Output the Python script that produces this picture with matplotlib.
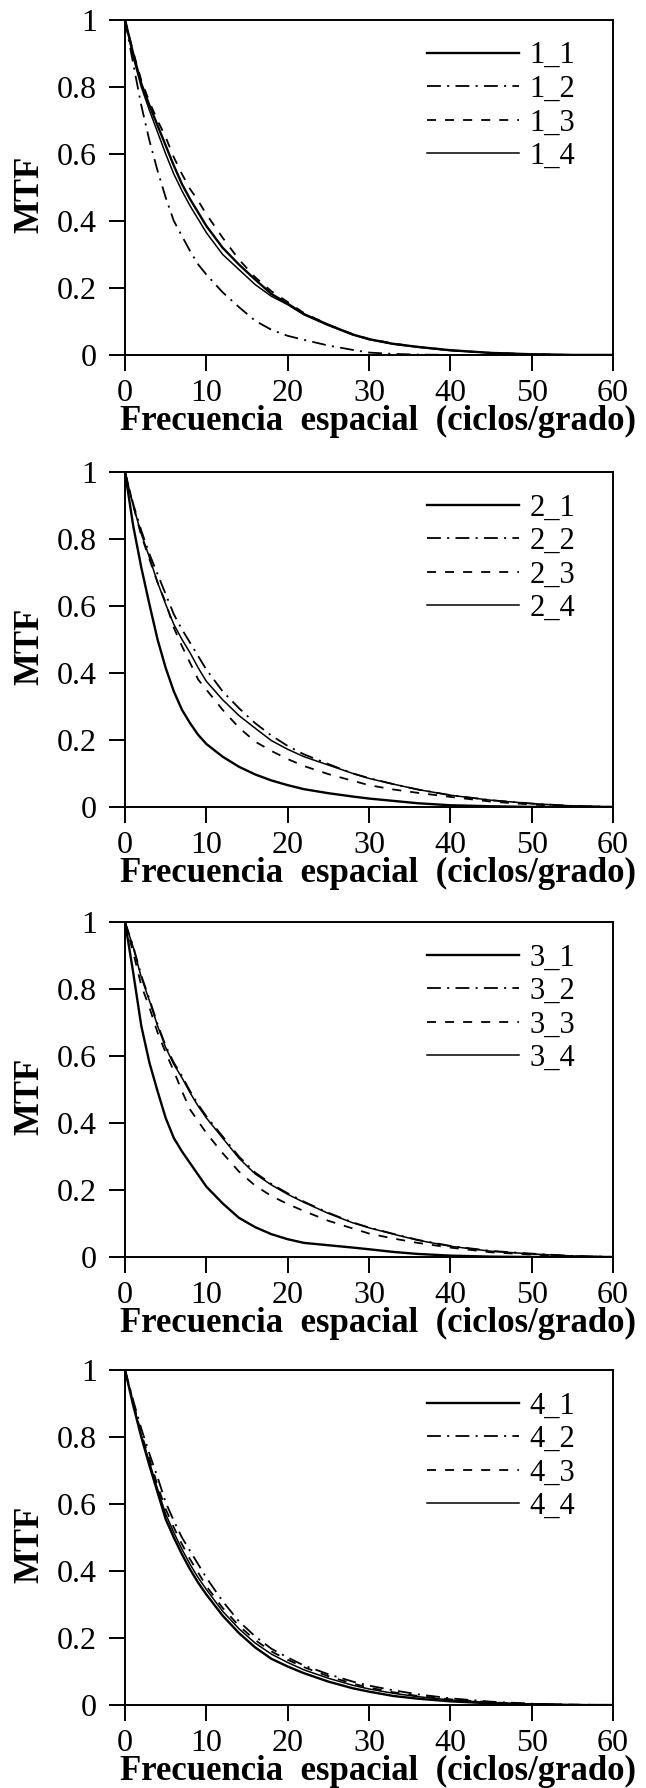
import matplotlib
matplotlib.use('Agg')
import matplotlib.pyplot as plt
from matplotlib.ticker import FixedLocator, FixedFormatter

plt.rcParams['font.family'] = ['Liberation Serif', 'DejaVu Serif']
plt.rcParams['lines.scale_dashes'] = False

# spatial frequency samples (ciclos/grado), shared by every curve
freq = [0, 1, 2, 3, 4, 5, 6, 7, 8, 9, 10, 12, 14, 16, 18, 20, 22, 25, 28,
        30, 33, 36, 40, 45, 50, 55, 60]

# panel 1
mtf_1_1 = [1.0, 0.90, 0.81, 0.745, 0.685, 0.625, 0.565, 0.51, 0.465, 0.425, 0.385,
           0.32, 0.27, 0.225, 0.182, 0.153, 0.122, 0.09, 0.061, 0.047, 0.033, 0.024,
           0.014, 0.006, 0.002, 0.0, 0.0]
mtf_1_2 = [1.0, 0.87, 0.745, 0.64, 0.55, 0.47, 0.40, 0.355, 0.31, 0.27, 0.24,
           0.187, 0.143, 0.102, 0.075, 0.057, 0.045, 0.028, 0.015, 0.007, 0.003, 0.001,
           0.0, 0.0, 0.0, 0.0, 0.0]
mtf_1_3 = [1.0, 0.905, 0.82, 0.755, 0.70, 0.65, 0.59, 0.54, 0.495, 0.46, 0.42,
           0.35, 0.285, 0.232, 0.19, 0.158, 0.125, 0.09, 0.062, 0.048, 0.034, 0.024,
           0.014, 0.006, 0.002, 0.0, 0.0]
mtf_1_4 = [1.0, 0.89, 0.80, 0.73, 0.665, 0.60, 0.54, 0.49, 0.445, 0.405, 0.365,
           0.30, 0.255, 0.21, 0.175, 0.15, 0.12, 0.088, 0.06, 0.046, 0.032, 0.023,
           0.013, 0.006, 0.002, 0.0, 0.0]

# panel 2
mtf_2_1 = [1.0, 0.84, 0.715, 0.605, 0.50, 0.415, 0.345, 0.29, 0.25, 0.215, 0.188,
           0.15, 0.12, 0.097, 0.079, 0.065, 0.053, 0.041, 0.031, 0.025, 0.018, 0.011,
           0.005, 0.002, 0.0, 0.0, 0.0]
mtf_2_2 = [1.0, 0.905, 0.825, 0.755, 0.695, 0.635, 0.575, 0.53, 0.49, 0.45, 0.41,
           0.345, 0.295, 0.25, 0.213, 0.182, 0.157, 0.128, 0.10, 0.086, 0.068, 0.052,
           0.035, 0.02, 0.01, 0.003, 0.0]
mtf_2_3 = [1.0, 0.90, 0.81, 0.74, 0.67, 0.61, 0.535, 0.48, 0.43, 0.38, 0.35,
           0.29, 0.237, 0.195, 0.167, 0.143, 0.122, 0.098, 0.078, 0.065, 0.052, 0.042,
           0.03, 0.016, 0.007, 0.002, 0.0]
mtf_2_4 = [1.0, 0.90, 0.815, 0.745, 0.67, 0.605, 0.545, 0.50, 0.46, 0.415, 0.375,
           0.32, 0.273, 0.235, 0.198, 0.172, 0.15, 0.125, 0.10, 0.085, 0.068, 0.052,
           0.035, 0.02, 0.01, 0.003, 0.0]

# panel 3
mtf_3_1 = [1.0, 0.85, 0.69, 0.58, 0.495, 0.415, 0.355, 0.315, 0.28, 0.245, 0.21,
           0.16, 0.117, 0.089, 0.068, 0.053, 0.042, 0.035, 0.028, 0.023, 0.015, 0.009,
           0.004, 0.001, 0.0, 0.0, 0.0]
mtf_3_2 = [1.0, 0.928, 0.84, 0.77, 0.695, 0.63, 0.58, 0.54, 0.495, 0.455, 0.42,
           0.36, 0.30, 0.252, 0.218, 0.19, 0.165, 0.132, 0.103, 0.088, 0.069, 0.051,
           0.033, 0.018, 0.01, 0.003, 0.0]
mtf_3_3 = [1.0, 0.91, 0.81, 0.745, 0.67, 0.61, 0.555, 0.495, 0.44, 0.405, 0.37,
           0.31, 0.255, 0.213, 0.182, 0.158, 0.137, 0.108, 0.085, 0.07, 0.055, 0.042,
           0.028, 0.014, 0.007, 0.002, 0.0]
mtf_3_4 = [1.0, 0.925, 0.835, 0.765, 0.69, 0.625, 0.575, 0.535, 0.49, 0.45, 0.415,
           0.355, 0.295, 0.248, 0.215, 0.187, 0.163, 0.13, 0.102, 0.087, 0.068, 0.05,
           0.032, 0.017, 0.009, 0.003, 0.0]

# panel 4
mtf_4_1 = [1.0, 0.895, 0.80, 0.715, 0.635, 0.555, 0.50, 0.45, 0.405, 0.365, 0.33,
           0.267, 0.215, 0.172, 0.138, 0.115, 0.095, 0.07, 0.05, 0.04, 0.027, 0.019,
           0.011, 0.005, 0.002, 0.0, 0.0]
mtf_4_2 = [1.0, 0.91, 0.825, 0.75, 0.68, 0.605, 0.55, 0.50, 0.46, 0.42, 0.38,
           0.31, 0.25, 0.205, 0.168, 0.142, 0.118, 0.092, 0.07, 0.058, 0.044, 0.032,
           0.02, 0.01, 0.004, 0.001, 0.0]
mtf_4_3 = [1.0, 0.905, 0.81, 0.735, 0.655, 0.585, 0.53, 0.48, 0.435, 0.395, 0.355,
           0.29, 0.237, 0.194, 0.16, 0.135, 0.113, 0.086, 0.064, 0.052, 0.038, 0.027,
           0.017, 0.008, 0.003, 0.001, 0.0]
mtf_4_4 = [1.0, 0.90, 0.805, 0.725, 0.645, 0.57, 0.515, 0.465, 0.42, 0.38, 0.345,
           0.28, 0.228, 0.185, 0.152, 0.127, 0.105, 0.08, 0.059, 0.048, 0.035, 0.025,
           0.015, 0.007, 0.003, 0.001, 0.0]

panels = [
    (['1_1', '1_2', '1_3', '1_4'], [mtf_1_1, mtf_1_2, mtf_1_3, mtf_1_4]),
    (['2_1', '2_2', '2_3', '2_4'], [mtf_2_1, mtf_2_2, mtf_2_3, mtf_2_4]),
    (['3_1', '3_2', '3_3', '3_4'], [mtf_3_1, mtf_3_2, mtf_3_3, mtf_3_4]),
    (['4_1', '4_2', '4_3', '4_4'], [mtf_4_1, mtf_4_2, mtf_4_3, mtf_4_4]),
]

x_ticks = [0, 10, 20, 30, 40, 50, 60]
x_ticklabels = ['0', '10', '20', '30', '40', '50', '60']
y_ticks = [0, 0.2, 0.4, 0.6, 0.8, 1.0]
y_ticklabels = ['0', '0.2', '0.4', '0.6', '0.8', '1']

# solid thick, dash-dot, dashed, solid thin
styles = [
    dict(linestyle='-', linewidth=1.7),
    dict(linestyle=(0, (10, 4.5, 1.5, 4.5)), linewidth=1.3),
    dict(linestyle=(0, (6.5, 6.5)), linewidth=1.3),
    dict(linestyle='-', linewidth=1.1),
]

fig = plt.figure(figsize=(6.46, 17.88), dpi=100)
bottoms = [0.8015, 0.5487, 0.2970, 0.0464]

for (names, curves), b in zip(panels, bottoms):
    ax = fig.add_axes([0.1935, b, 0.7554, 0.1874])
    for name, y, st in zip(names, curves, styles):
        ax.plot(freq, y, color='black', label=name, **st)

    ax.set_xlim(0, 60)
    ax.set_ylim(0, 1)
    ax.xaxis.set_major_locator(FixedLocator(x_ticks))
    ax.xaxis.set_major_formatter(FixedFormatter(x_ticklabels))
    ax.yaxis.set_major_locator(FixedLocator(y_ticks))
    ax.yaxis.set_major_formatter(FixedFormatter(y_ticklabels))
    ax.tick_params(direction='out', length=11.5, width=1.4, labelsize=23,
                   top=False, right=False)
    ax.tick_params(axis='x', pad=5.5)
    ax.tick_params(axis='y', pad=8.5)
    for sp in ax.spines.values():
        sp.set_linewidth(1.4)

    ax.set_xlabel('Frecuencia  espacial  (ciclos/grado)', fontsize=25,
                  fontweight='bold')
    ax.xaxis.set_label_coords(0.518, -0.149)
    ax.set_ylabel('MTF', fontsize=25, fontweight='bold')
    ax.yaxis.set_label_coords(-0.161, 0.48)

    ax.legend(loc='upper right', bbox_to_anchor=(0.922, 0.936), frameon=False,
              fontsize=22, handlelength=3.0, handletextpad=0.33,
              labelspacing=0.15, borderpad=0, borderaxespad=0)

fig.savefig('out.png', dpi=100)
